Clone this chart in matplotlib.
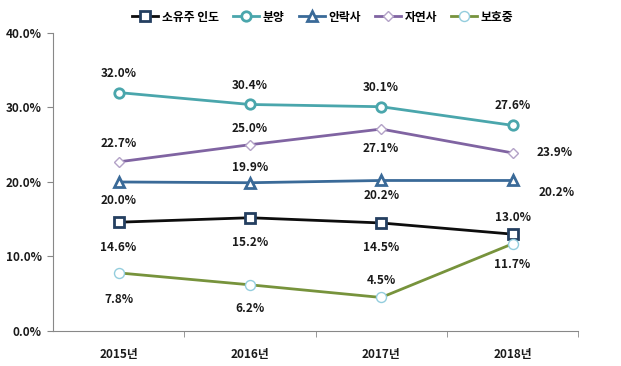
import matplotlib
matplotlib.use("Agg")
import matplotlib.pyplot as plt
from matplotlib.ticker import FuncFormatter, FixedLocator

plt.rcParams['font.family'] = ['Noto Sans CJK KR', 'DejaVu Sans']

years = ["2015년", "2016년", "2017년", "2018년"]
series_names = ["소유주 인도", "분양", "안락사", "자연사", "보호중"]
owner = [14.6, 15.2, 14.5, 13.0]
adopt = [32.0, 30.4, 30.1, 27.6]
euth = [20.0, 19.9, 20.2, 20.2]
natural = [22.7, 25.0, 27.1, 23.9]
protect = [7.8, 6.2, 4.5, 11.7]
y_ticks = [0, 10, 20, 30, 40]

data = [owner, adopt, euth, natural, protect]
styles = [
    dict(color="#0d0d0d", marker="s", mfc="white", mec="#243f60", ms=6.5, mew=2.0),
    dict(color="#4aa6ac", marker="o", mfc="white", mec="#4aa6ac", ms=6.8, mew=2.0),
    dict(color="#3a6a98", marker="^", mfc="white", mec="#3a6a98", ms=7.2, mew=2.0),
    dict(color="#8064a2", marker="D", mfc="white", mec="#b3a2c7", ms=5.0, mew=1.0),
    dict(color="#77933c", marker="o", mfc="white", mec="#93cddd", ms=7.2, mew=1.0),
]
# label offsets in points (dx, dy) per series per point
offsets = [
    [(0, -18), (0, -18), (0, -18), (0, 12)],
    [(0, 14), (0, 14), (0, 14), (0, 14)],
    [(0, -13), (0, 11), (0, -11), (32, -9)],
    [(0, 13), (0, 12), (0, -14), (30, 0)],
    [(0, -19), (0, -17), (0, 12), (0, -15)],
]

fig = plt.figure(figsize=(6.21, 3.66), dpi=100)
ax = fig.add_axes([0.0853, 0.0956, 0.8457, 0.8144])
x = list(range(len(years)))
for name, vals, st, offs in zip(series_names, data, styles, offsets):
    ax.plot(x, vals, lw=2.0, label=name, **st)
    for xi, v, (dx, dy) in zip(x, vals, offs):
        ax.annotate(f"{v:.1f}%", (xi, v), xytext=(dx, dy), textcoords="offset points",
                    ha="center", va="center", fontsize=8.5, fontweight="bold", color="#1a1a1a")

ax.set_xlim(-0.5, 3.5)
ax.set_ylim(0, 40)
ax.set_yticks(y_ticks)
ax.yaxis.set_major_formatter(FuncFormatter(lambda v, p: f"{v:.1f}%"))
ax.set_xticks(x)
ax.set_xticklabels(years)
ax.xaxis.set_minor_locator(FixedLocator([0.5, 1.5, 2.5, 3.5]))
ax.tick_params(axis="x", which="major", length=0, pad=12)
ax.tick_params(axis="x", which="minor", length=4, color="#888888")
ax.tick_params(axis="y", length=4, color="#888888", pad=4)
for lbl in ax.get_xticklabels() + ax.get_yticklabels():
    lbl.set_fontweight("bold")
    lbl.set_fontsize(8.5)
    lbl.set_color("#1a1a1a")
for s in ["top", "right"]:
    ax.spines[s].set_visible(False)
for s in ["left", "bottom"]:
    ax.spines[s].set_color("#888888")

leg = fig.legend(loc="upper center", bbox_to_anchor=(0.52, 1.0), ncol=5, frameon=False,
                 fontsize=8.5, handlelength=2.2, columnspacing=1.2, handletextpad=0.3)
for t in leg.get_texts():
    t.set_fontweight("bold")

fig.savefig("out.png", dpi=100)
